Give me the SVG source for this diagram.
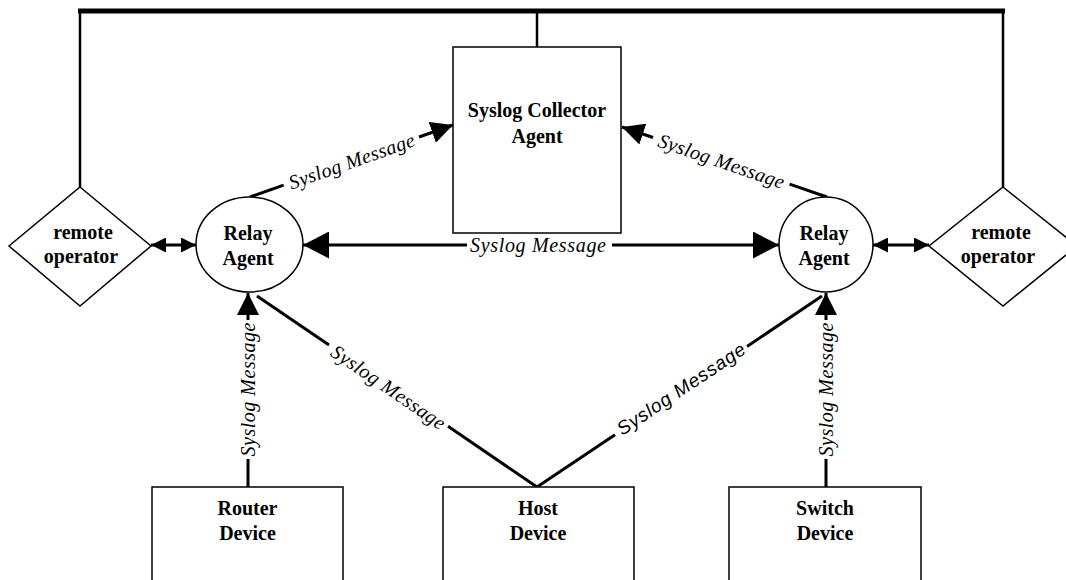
<svg xmlns="http://www.w3.org/2000/svg" width="1066" height="580" viewBox="0 0 1066 580">
<defs>
<style>
.box{fill:#fff;stroke:#000;stroke-width:1.5}
.nt{font-family:"Liberation Serif","Times New Roman",serif;font-weight:bold;font-size:20px;fill:#000;text-anchor:middle}
.lbl{font-family:"Liberation Serif","Times New Roman",serif;font-style:italic;font-size:20px;fill:#000;text-anchor:middle;dominant-baseline:central}
.lbls{font-family:"Liberation Sans",Arial,sans-serif;font-style:italic;font-size:19px;fill:#000;text-anchor:middle;dominant-baseline:central}
.ln{stroke:#000;stroke-width:3;fill:none}
.bus{stroke:#000;stroke-width:5;fill:none}
.wire{stroke:#000;stroke-width:2.5;fill:none}
</style>
<marker id="big" markerUnits="userSpaceOnUse" markerWidth="26" markerHeight="27" refX="26" refY="13.5" orient="auto-start-reverse" viewBox="0 0 26 27">
<path d="M0,0 L26,13.5 L0,27 Z" fill="#000"/>
</marker>
<marker id="mid" markerUnits="userSpaceOnUse" markerWidth="22" markerHeight="22" refX="22" refY="11" orient="auto-start-reverse" viewBox="0 0 22 22">
<path d="M0,0 L22,11 L0,22 Z" fill="#000"/>
</marker>
<marker id="sm" markerUnits="userSpaceOnUse" markerWidth="15" markerHeight="15" refX="15" refY="7.5" orient="auto-start-reverse" viewBox="0 0 15 15">
<path d="M0,0 L15,7.5 L0,15 Z" fill="#000"/>
</marker>
</defs>
<rect width="1066" height="580" fill="#fff"/>
<g id="connectors">
<line class="bus" x1="78" y1="11" x2="1005" y2="11"/>
<line class="wire" x1="80" y1="11" x2="80" y2="187"/>
<line class="wire" x1="1003" y1="11" x2="1003" y2="187"/>
<line class="wire" x1="537" y1="11" x2="537" y2="47"/>
<line class="ln" x1="151" y1="245" x2="196" y2="245" marker-start="url(#sm)" marker-end="url(#sm)"/>
<line class="ln" x1="873" y1="245" x2="929" y2="245" marker-start="url(#sm)" marker-end="url(#sm)"/>
<line class="ln" x1="303" y1="245" x2="467" y2="245" marker-start="url(#big)"/>
<line class="ln" x1="612" y1="245" x2="779" y2="245" marker-end="url(#big)"/>
<text class="lbl" x="538" y="245" textLength="136">Syslog Message</text>
<line class="ln" x1="250" y1="197" x2="283.6" y2="185.1" stroke-width="3.5"/>
<line class="ln" x1="419" y1="137" x2="453" y2="125" stroke-width="3.5" marker-end="url(#mid)"/>
<text class="lbl" x="351.5" y="161" transform="rotate(-19.5 351.5 161)" textLength="132">Syslog Message</text>
<line class="ln" x1="827" y1="197" x2="789.6" y2="184.2" stroke-width="3.5"/>
<line class="ln" x1="653" y1="137.5" x2="622" y2="127" stroke-width="3.5" marker-end="url(#mid)"/>
<text class="lbl" x="721.5" y="161" transform="rotate(18.9 721.5 161)" textLength="132">Syslog Message</text>
<line class="ln" x1="248" y1="487" x2="248" y2="459"/>
<line class="ln" x1="248" y1="320" x2="248" y2="293" marker-end="url(#mid)"/>
<text class="lbl" x="248" y="389.5" transform="rotate(-90 248 389.5)" textLength="134">Syslog Message</text>
<line class="ln" x1="826" y1="487" x2="826" y2="459"/>
<line class="ln" x1="826" y1="320" x2="826" y2="293" marker-end="url(#mid)"/>
<text class="lbl" x="826" y="389.5" transform="rotate(-90 826 389.5)" textLength="134">Syslog Message</text>
<line class="ln" x1="537" y1="487" x2="448" y2="426.3"/>
<line class="ln" x1="329" y1="345.1" x2="257" y2="296"/>
<text class="lbl" x="388.5" y="387" transform="rotate(34.3 388.5 387)" textLength="134">Syslog Message</text>
<line class="ln" x1="537" y1="487" x2="615" y2="434.7"/>
<line class="ln" x1="747" y1="346.5" x2="822" y2="296"/>
<text class="lbls" x="681" y="389" transform="rotate(-33.8 681 389)" textLength="150">Syslog Message</text>
</g>
<g id="collector">
<rect class="box" x="453" y="47" width="168" height="186"/>
<text class="nt" x="537" y="117">Syslog Collector</text>
<text class="nt" x="537" y="143">Agent</text>
</g>
<g id="remote-left">
<polygon class="box" points="80,187 151,246 80,306 9,246"/>
<text class="nt" x="83" y="239">remote</text>
<text class="nt" x="81" y="263">operator</text>
</g>
<g id="remote-right">
<polygon class="box" points="1003,187 1077,246 1003,306 929,246"/>
<text class="nt" x="1001" y="239">remote</text>
<text class="nt" x="998" y="263">operator</text>
</g>
<g id="relay-left">
<ellipse class="box" cx="249.5" cy="244.5" rx="53.5" ry="47.5"/>
<text class="nt" x="248" y="240">Relay</text>
<text class="nt" x="248" y="265">Agent</text>
</g>
<g id="relay-right">
<ellipse class="box" cx="826" cy="244.5" rx="47" ry="47.5"/>
<text class="nt" x="824" y="240">Relay</text>
<text class="nt" x="824" y="265">Agent</text>
</g>
<g id="router">
<rect class="box" x="152" y="487" width="191" height="120"/>
<text class="nt" x="247.5" y="515">Router</text>
<text class="nt" x="247.5" y="540">Device</text>
</g>
<g id="host">
<rect class="box" x="443" y="487" width="191" height="120"/>
<text class="nt" x="538" y="515">Host</text>
<text class="nt" x="538" y="540">Device</text>
</g>
<g id="switch">
<rect class="box" x="729" y="487" width="192" height="120"/>
<text class="nt" x="825" y="515">Switch</text>
<text class="nt" x="825" y="540">Device</text>
</g>
</svg>
